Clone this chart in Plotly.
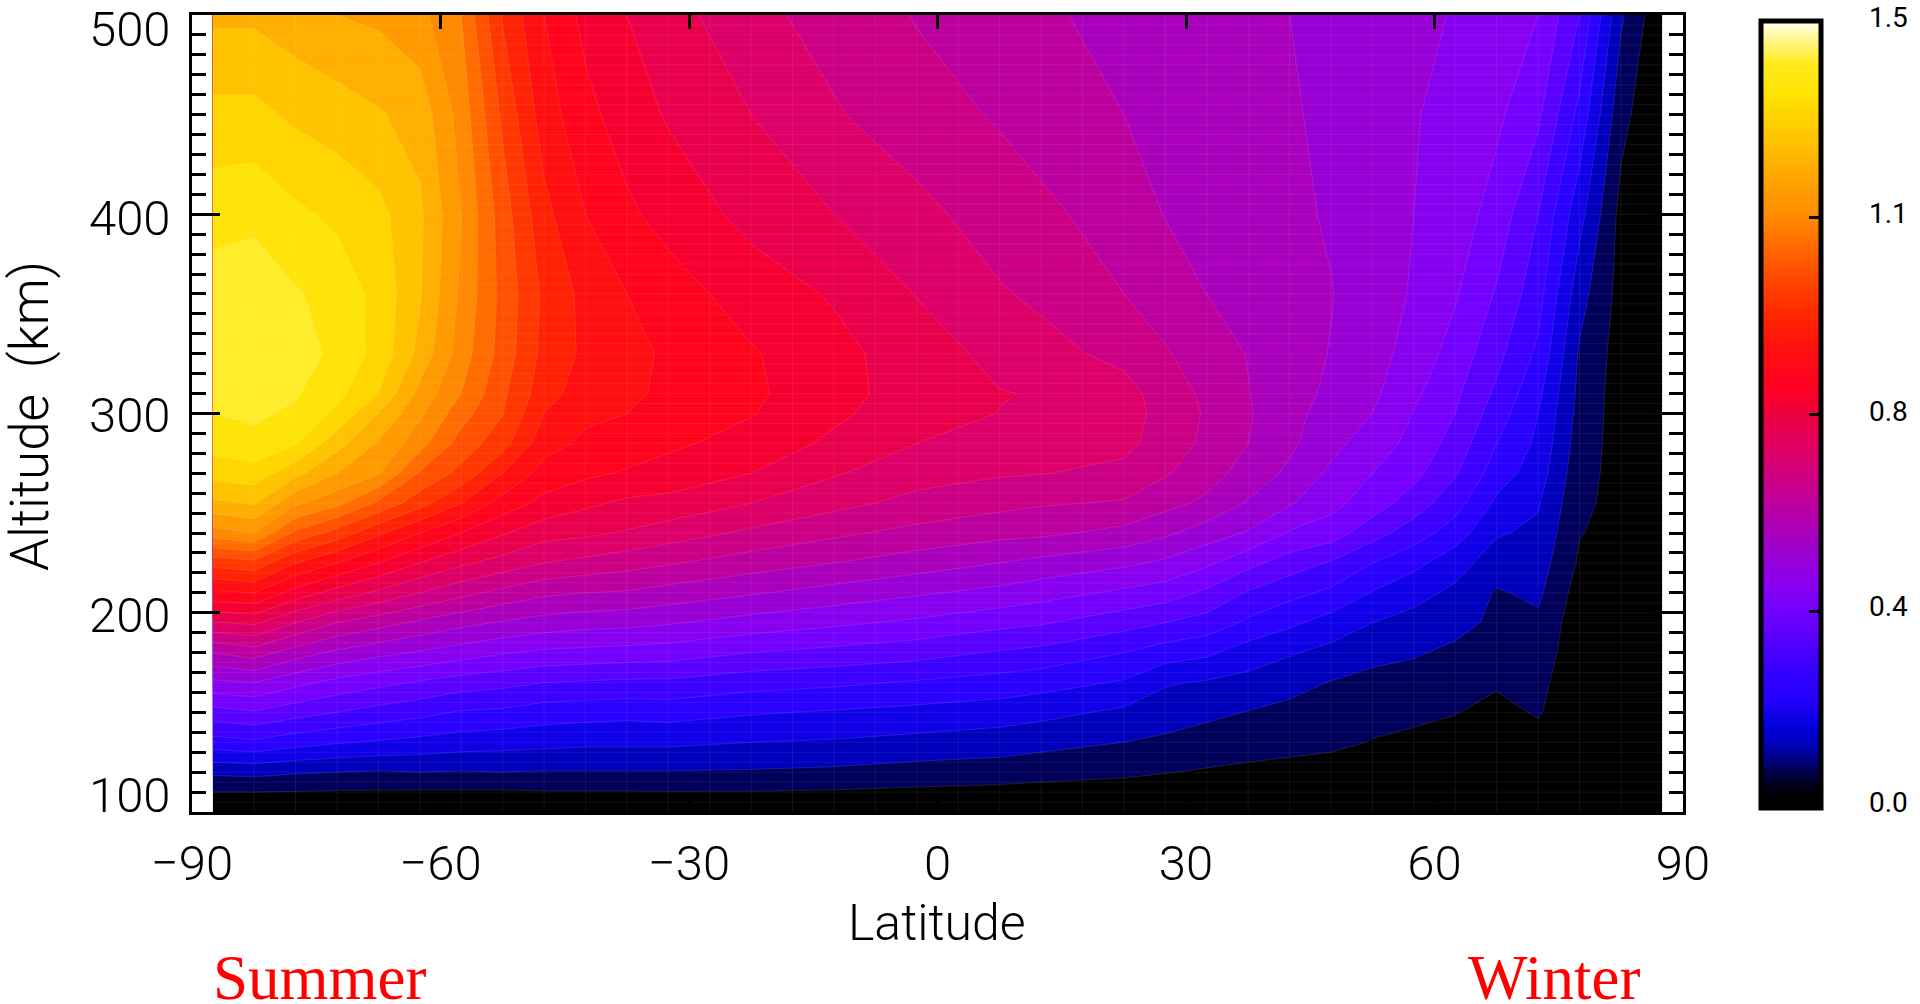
import numpy as np
import plotly.graph_objects as go

# Values
ALTITUDE = [100,110,120,135,150,165,180,195,210,225,240,255,270,285,300,310,330,360,400,450,500]
LATITUDE = [-87.5,-82.5,-77.5,-72.5,-67.5,-62.5,-57.5,-52.5,-47.5,-42.5,-37.5,-32.5,-22.5,-12.5,-2.5,7.5,12.5,22.5,27.5,32.5,37.5,42.5,47.5,52.5,57.5,62.5,67.5,72.5,77.5,82.5,87.5]
Z_BY_LATITUDE = [
 [.005,.05,.11,.23,.33,.44,.55,.695,.84,.97,1.13,1.24,1.32,1.37,1.40,1.415,1.43,1.425,1.38,1.315,1.24],
 [.005,.05,.115,.24,.345,.45,.575,.71,.85,.985,1.15,1.255,1.33,1.385,1.41,1.425,1.44,1.43,1.388,1.315,1.24],
 [.005,.048,.105,.22,.32,.415,.525,.65,.78,.90,1.04,1.16,1.265,1.355,1.39,1.405,1.43,1.405,1.36,1.29,1.22],
 [.004,.046,.10,.205,.30,.385,.49,.60,.73,.85,.98,1.115,1.20,1.27,1.34,1.365,1.385,1.38,1.34,1.275,1.20],
 [.004,.045,.095,.195,.28,.365,.465,.57,.69,.80,.91,1.04,1.155,1.195,1.25,1.30,1.335,1.335,1.315,1.255,1.19],
 [.004,.044,.10,.185,.265,.345,.445,.54,.65,.75,.85,.97,1.045,1.12,1.16,1.185,1.235,1.255,1.26,1.23,1.165],
 [.004,.044,.097,.175,.245,.325,.425,.515,.615,.71,.80,.90,.985,1.03,1.07,1.10,1.125,1.14,1.15,1.13,1.10],
 [.004,.044,.10,.17,.24,.315,.405,.495,.585,.68,.755,.83,.90,.97,1.002,1.01,1.03,1.035,1.025,.99,.945],
 [.003,.047,.097,.165,.225,.30,.39,.48,.56,.65,.72,.785,.83,.87,.90,.92,.935,.94,.915,.875,.85],
 [.003,.047,.097,.16,.22,.295,.385,.47,.55,.635,.71,.76,.81,.84,.86,.875,.89,.885,.85,.815,.785],
 [.003,.047,.097,.16,.215,.29,.38,.465,.545,.62,.695,.74,.795,.825,.85,.86,.87,.85,.81,.775,.75],
 [.003,.048,.097,.16,.22,.29,.375,.455,.53,.605,.675,.735,.78,.81,.83,.84,.84,.825,.78,.745,.72],
 [.003,.048,.095,.15,.205,.27,.35,.43,.505,.575,.64,.70,.75,.78,.803,.81,.805,.775,.735,.70,.665],
 [.003,.045,.09,.145,.195,.26,.335,.41,.48,.55,.61,.665,.705,.74,.76,.765,.765,.745,.70,.655,.63],
 [.002,.04,.08,.135,.185,.245,.32,.39,.457,.525,.585,.635,.67,.70,.72,.73,.725,.698,.665,.62,.597],
 [.002,.035,.075,.125,.175,.23,.295,.365,.435,.50,.565,.615,.655,.68,.699,.702,.685,.655,.625,.595,.57],
 [.002,.03,.07,.115,.165,.22,.285,.355,.42,.485,.56,.605,.652,.668,.69,.697,.668,.64,.61,.58,.56],
 [.002,.025,.06,.10,.14,.195,.25,.32,.39,.46,.535,.595,.635,.665,.675,.67,.635,.60,.58,.55,.53],
 [.001,.02,.052,.09,.125,.155,.225,.30,.375,.44,.51,.565,.605,.625,.63,.625,.605,.575,.548,.535,.53],
 [.001,.015,.045,.08,.11,.145,.21,.28,.34,.41,.475,.54,.57,.59,.595,.59,.572,.55,.535,.52,.515],
 [.001,.012,.04,.07,.098,.135,.175,.24,.295,.365,.445,.495,.53,.55,.555,.552,.548,.535,.52,.51,.505],
 [.001,.01,.035,.065,.088,.115,.155,.21,.265,.325,.395,.455,.49,.51,.515,.52,.52,.515,.51,.505,.50],
 [.001,.01,.03,.06,.08,.098,.135,.18,.24,.295,.375,.415,.44,.465,.48,.49,.498,.502,.495,.49,.485],
 [0,.005,.015,.048,.065,.085,.115,.15,.197,.25,.32,.375,.40,.425,.45,.46,.47,.475,.47,.47,.47],
 [0,.003,.012,.04,.06,.08,.105,.135,.165,.215,.275,.325,.365,.385,.398,.41,.43,.445,.45,.453,.462],
 [0,.002,.008,.03,.052,.07,.09,.115,.14,.17,.225,.27,.305,.33,.35,.36,.38,.405,.425,.435,.447],
 [0,.001,.005,.02,.035,.056,.075,.09,.095,.125,.155,.19,.225,.25,.275,.29,.315,.345,.38,.41,.43],
 [0,.002,.008,.03,.055,.065,.08,.09,.11,.125,.14,.155,.175,.19,.20,.212,.24,.27,.30,.36,.40],
 [0,0,0,.005,.01,.012,.015,.02,.028,.043,.052,.06,.068,.075,.083,.087,.094,.12,.168,.235,.30],
 [0,0,0,0,.001,.002,.003,.004,.008,.02,.035,.035,.032,.03,.027,.026,.028,.032,.035,.065,.108],
 [0,0,0,0,0,0,0,0,0,0,0,0,0,0,0,0,0,0,.001,.004,.008],
]
COLOR_VALUES = [0,.025,.054,.117,.15,.214,.245,.309,.373,.437,.5,.565,.628,.692,.756,.80,.877,.94,1.005,1.07,1.13,1.19,1.26,1.356,1.42,1.475,1.5]
COLORS = ["#000000","#000000","#00002d","#0000b4","#0000d7","#2800ff","#2d00ff","#5000ff","#7300ff","#8c00eb","#a000c8","#b900a5","#cd0082","#e1005f","#f0003c","#ff0023","#ff0f0f","#ff2800","#ff4600","#ff6900","#ff8c00","#ffa000","#ffbe00","#ffe100","#ffeb1e","#fffaaa","#fffff5"]
X_TICKS = [-90,-60,-30,0,30,60,90]
X_TICK_TEXT = ["\u221290","\u221260","\u221230","0","30","60","90"]
Y_TICKS = [100,200,300,400,500]
Y_TICK_SHIFT = [17,-3,-2,-4,-15]
BAR_TICKS = [0,.375,.75,1.125,1.5]
BAR_TEXT = ["0.0","0.4","0.8","1.1","1.5"]
BAR_LABEL_Y = [802,606,412,213,18]
SEAM_LAT = np.arange(-87.5, 88, 5)
SEAM_ALT = np.arange(105, 500, 5)

W, H = 1920, 1004
L, R, T, B = 192, 1683, 15, 812
FONT = "Roboto"
px = lambda v: v / W
py = lambda v: (H - v) / H

z = np.array(Z_BY_LATITUDE).T
bar_scale = [[v / 1.5, c] for v, c in zip(COLOR_VALUES, COLORS)]
fill_scale = [[0, "#000000"]] + [[(v - .025) / 1.5, c] for v, c in zip(COLOR_VALUES, COLORS) if .025 < v] + [[1, "#ffffff"]]

fig = go.Figure()
fig.add_trace(go.Contour(
    x=LATITUDE, y=ALTITUDE, z=z, colorscale=fill_scale, showscale=False,
    autocontour=False,
    contours=dict(start=.05, end=1.5, size=.05, coloring="fill", showlines=True),
    line=dict(color="rgba(255,255,255,0.16)", width=0.7, smoothing=0),
    hoverinfo="skip",
))
# Faint rendering seams of the original filled-contour grid
seam_x, seam_y = [], []
for la in SEAM_LAT:
    seam_x += [la, la, None]; seam_y += [100, 500, None]
for al in SEAM_ALT:
    seam_x += [-87.5, 87.5, None]; seam_y += [al, al, None]
fig.add_trace(go.Scatter(x=seam_x, y=seam_y, mode="lines", hoverinfo="skip",
                         line=dict(color="rgba(255,255,255,0.07)", width=1)))
# Invisible data (outside the axis range) that carries the continuous colour bar
fig.add_trace(go.Heatmap(
    x=[-200, -199], y=[100, 500], z=[[0, 1.5], [0, 1.5]], zmin=0, zmax=1.5,
    colorscale=bar_scale, hoverinfo="skip",
    colorbar=dict(
        xref="container", yref="container", x=px(1761), xanchor="left",
        y=py(808), yanchor="bottom", lenmode="pixels", len=787,
        thicknessmode="pixels", thickness=60, xpad=0, ypad=0,
        outlinewidth=5, outlinecolor="black", borderwidth=0,
        tickmode="array", tickvals=BAR_TICKS, ticktext=BAR_TEXT,
        ticks="inside", ticklen=14, tickwidth=3, tickcolor="black",
        showticklabels=False,
    ),
))

notes = []
for val, dy in zip(Y_TICKS, Y_TICK_SHIFT):
    notes.append(dict(text=str(val), xref="paper", yref="y", x=px(173), y=val,
                      xanchor="right", yanchor="middle", yshift=dy, showarrow=False,
                      font=dict(family=FONT, size=49, color="black", weight=300)))
for txt, y in zip(BAR_TEXT, BAR_LABEL_Y):
    notes.append(dict(text=txt, xref="paper", yref="paper", x=px(1867), y=py(y),
                      xanchor="left", yanchor="middle", showarrow=False,
                      font=dict(family=FONT, size=28, color="black", weight=400)))
for txt, xc in (("Summer", 320), ("Winter", 1554)):
    notes.append(dict(text=txt, xref="paper", yref="paper", x=px(xc), y=py(978),
                      xanchor="center", yanchor="middle", showarrow=False,
                      font=dict(family="Liberation Serif", size=63, color="#ff0000")))
notes.append(dict(text="Latitude", xref="paper", yref="paper", x=px(937), y=py(923),
                  xanchor="center", yanchor="middle", showarrow=False,
                  font=dict(family=FONT, size=50, color="black", weight=300)))
notes.append(dict(text="Altitude\u00a0 (km)", xref="paper", yref="paper", x=px(30), y=py(416),
                  xanchor="center", yanchor="middle", textangle=-90,
                  showarrow=False, font=dict(family=FONT, size=53, color="black", weight=300)))

fig.update_layout(
    width=W, height=H, margin=dict(l=0, r=0, t=0, b=0, autoexpand=False),
    paper_bgcolor="white", plot_bgcolor="white", showlegend=False, annotations=notes,
    xaxis=dict(domain=[px(L), px(R)], range=[-90, 90], tickmode="array", tickvals=X_TICKS,
               ticktext=X_TICK_TEXT, ticks="inside", ticklen=14, tickwidth=3, tickcolor="black",
               showline=True, linewidth=3, linecolor="black", mirror="ticks", showgrid=False,
               zeroline=False, ticklabelstandoff=6, layer="above traces",
               tickfont=dict(family=FONT, size=49, color="black", weight=300)),
    yaxis=dict(domain=[py(B), py(T)], range=[100, 500], tickmode="array", tickvals=Y_TICKS,
               showticklabels=False, ticks="inside", ticklen=28, tickwidth=3, tickcolor="black",
               showline=True, linewidth=3, linecolor="black", mirror="ticks", showgrid=False,
               zeroline=False, layer="above traces",
               minor=dict(dtick=10, ticks="inside", ticklen=14, tickwidth=3, tickcolor="black", showgrid=False)),
)
fig.write_html("out.html", config={"displayModeBar": False},
               post_script="document.body.style.margin='0';")
